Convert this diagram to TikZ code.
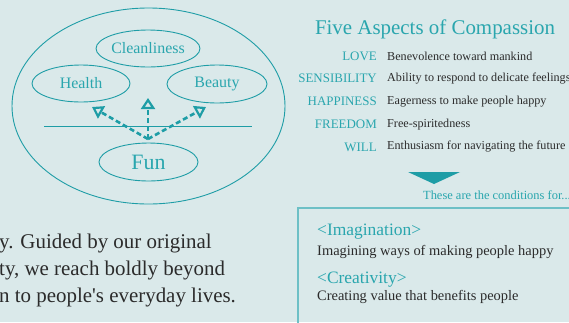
\documentclass[tikz,border=0pt]{standalone}
\usepackage{fontspec}
\setmainfont{Liberation Serif}[Ligatures=TeXOff]
\usetikzlibrary{shapes.geometric,arrows.meta}
\definecolor{bgc}{HTML}{DAE9EA}
\definecolor{tealA}{HTML}{1E9DA6}
\definecolor{tealB}{HTML}{2AA6AE}
\definecolor{tealbox}{HTML}{6DC0C6}
\definecolor{ink}{HTML}{2B2B2B}
\newcommand{\fs}[1]{\fontsize{#1}{#1}\selectfont}

\begin{document}
\begin{tikzpicture}[x=1bp,y=-1bp,
  oval/.style={draw=tealA,line width=0.9bp,ellipse,inner sep=0pt,text=tealB,font=\fs{16}},
  dasharrow/.style={tealA,line width=2.6bp,dash pattern=on 5bp off 3bp,
    -{Triangle[open,length=11bp,width=14bp,line width=2.2bp]}},
  aspect/.style={anchor=east,inner sep=0pt,text=tealB,font=\fs{13}},
  aspecttxt/.style={anchor=west,inner sep=0pt,text=ink,font=\fs{12.2}}]
\useasboundingbox[fill=bgc] (0,0) rectangle (569,322);
\clip (0,0) rectangle (569,322);

\node[oval,minimum width=273bp,minimum height=196bp] (outer) at (148.5,106) {};
\node[oval,minimum width=98bp,minimum height=37bp] (clean) at (148,48.5) {Cleanliness};
\node[oval,minimum width=98bp,minimum height=37bp] (health) at (81,83.5) {Health};
\node[oval,minimum width=100bp,minimum height=38bp] (beauty) at (217,84) {Beauty};
\node[oval,minimum width=99bp,minimum height=38bp,font=\fs{22}] (fun) at (148.5,162) {Fun};
\draw[tealA,line width=0.9bp] (44,126) -- (252,126);

\coordinate (hub) at (148,139);
\coordinate (tipH) at (92,107);
\coordinate (tipC) at (148,98);
\coordinate (tipB) at (206,107);
\foreach \t in {tipH,tipC,tipB}
\draw[dasharrow] (hub) -- (\t);

\node[text=tealB,font=\fs{21},inner sep=0pt] (title) at (435,29) {Five Aspects of Compassion};
\def\xlab{377} \def\xtxt{387}
\foreach \lab/\txt [count=\i from 0] in {LOVE/Benevolence toward mankind,
  SENSIBILITY/Ability to respond to delicate feelings,
  HAPPINESS/Eagerness to make people happy,
  FREEDOM/Free-spiritedness,
  WILL/Enthusiasm for navigating the future}{
\pgfmathsetmacro{\yy}{56+\i*22.75}
\node[aspect] (lab\i) at (\xlab,\yy) {\lab};
\node[aspecttxt] (txt\i) at (\xtxt,\yy) {\txt};
}

\fill[tealA] (408,172) -- (460,172) -- (434,184) -- cycle;
\node[anchor=east,inner sep=0pt,text=tealB,font=\fs{12.5}] (cond) at (571,195) {These are the conditions for...};

\draw[tealbox,line width=1.1bp] (298,208) rectangle (600,340);
\node[anchor=west,inner sep=0pt,text=tealB,font=\fs{17.5}] (imag) at (317,232) {<Imagination>};
\node[anchor=west,inner sep=0pt,text=ink,font=\fs{14.5}] (imagtxt) at (317,252) {Imagining ways of making people happy};
\node[anchor=west,inner sep=0pt,text=tealB,font=\fs{17.5}] (crea) at (317,280) {<Creativity>};
\node[anchor=west,inner sep=0pt,text=ink,font=\fs{14.5}] (creatxt) at (317,297) {Creating value that benefits people};

\foreach \ln/\yy in {{y. Guided by our original}/243,{ty, we reach boldly beyond}/270,{n to people's everyday lives.}/297}
\node[anchor=west,inner sep=0pt,text=ink,font=\fs{21}] at (-1,\yy) {\ln};
\end{tikzpicture}
\end{document}
